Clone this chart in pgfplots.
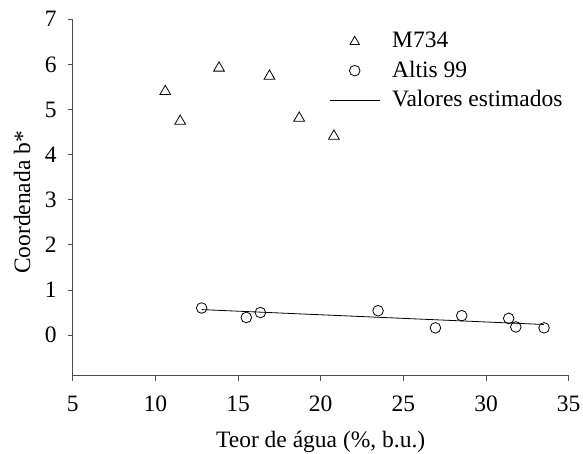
\documentclass[border=0pt]{standalone}
\usepackage{fontspec}
\setmainfont{Liberation Serif}
\usepackage{pgfplots}
\pgfplotsset{compat=1.18}
\begin{document}
\fontsize{23.5}{27}\selectfont
\begin{tikzpicture}
\begin{axis}[
  name=ax,
  scale only axis, width=496pt, height=356.4pt,
  xmin=5, xmax=35, ymin=-0.9, ymax=7,
  xtick={5,10,...,35}, ytick={0,...,7},
  axis x line*=bottom, axis y line*=left,
  axis line style={black!70, line width=0.8pt, -},
  tick align=outside, major tick length=5pt,
  tick style={black!70, line width=0.8pt},
  /pgf/number format/assume math mode=true,
  xticklabel style={yshift=-7pt},
  yticklabel style={xshift=-3pt},
  xlabel={Teor de água (\%, b.u.)},
  ylabel={Coordenada b*},
  xlabel style={at={(axis description cs:0.5,-0.185)}, anchor=center},
  ylabel style={at={(axis description cs:-0.1022,0.486)}, anchor=center},
  legend style={draw=none, fill=none, at={(0.517,0.97)}, anchor=north west,
    inner sep=0pt, row sep=5.5pt,
    /tikz/every odd column/.append style={column sep=10pt}},
  legend cell align=left,
  legend image code/.code={\draw[mark repeat=2, mark phase=2]
    plot coordinates {(0pt,0pt)(25pt,0pt)(50pt,0pt)};},
]
\addplot[only marks, mark=triangle, mark size=6.2pt, mark options={line width=0.8pt},
  legend image post style={mark size=5.4pt}]
  coordinates {(10.6,5.40)(11.5,4.74)(13.85,5.92)(16.9,5.74)(18.7,4.81)(20.8,4.41)};
\addlegendentry{M734}
\addplot[only marks, mark=o, mark size=5.3pt, mark options={line width=0.8pt}]
  coordinates {(12.8,0.60)(15.5,0.39)(16.35,0.50)(23.47,0.54)(26.94,0.16)
               (28.53,0.43)(31.37,0.37)(31.8,0.18)(33.51,0.16)};
\addlegendentry{Altis 99}
\addplot[black, line width=0.8pt] coordinates {(12.8,0.565)(33.5,0.235)};
\addlegendentry{Valores estimados}
\end{axis}
\pgfresetboundingbox
\path ([xshift=-72.7pt,yshift=-78.3pt]ax.south west)
  rectangle ([xshift=14.3pt,yshift=19.3pt]ax.north east);
\end{tikzpicture}
\end{document}
